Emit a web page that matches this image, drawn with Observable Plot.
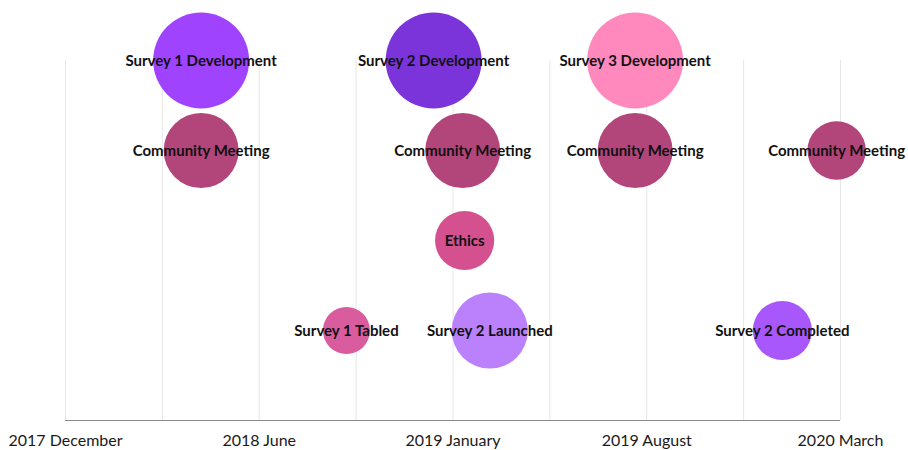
<!DOCTYPE html>
<html>
<head>
<meta charset="utf-8">
<script src="https://cdn.jsdelivr.net/npm/d3@7"></script>
<script src="https://cdn.jsdelivr.net/npm/@observablehq/plot@0.6"></script>
<style>
  html, body { margin: 0; padding: 0; background: #fff; }
  #chart { width: 908px; height: 450px; }
</style>
</head>
<body>
<div id="chart"></div>
<script>
// Events
const events = ["Survey 1 Development", "Survey 2 Development", "Survey 3 Development",
  "Community Meeting", "Community Meeting", "Community Meeting", "Community Meeting",
  "Ethics", "Survey 1 Tabled", "Survey 2 Launched", "Survey 2 Completed"];
// position on the timeline (1 unit = one labelled step)
const when = [0.70, 1.90, 2.94, 0.70, 2.05, 2.94, 3.98, 2.06, 1.45, 2.19, 3.70];
// row (0 = top)
const track = [0, 0, 0, 1, 1, 1, 1, 2, 3, 3, 3];
// relative importance (bubble area)
const weight = [100, 100, 100, 61, 61, 61, 37, 38, 24, 63, 38];

const tickValues = [0, 1, 2, 3, 4];
const tickLabels = ["2017 December", "2018 June", "2019 January", "2019 August", "2020 March"];
const gridValues = [0, 0.5, 1, 1.5, 2, 2.5, 3, 3.5, 4];

const kinds = ["Survey 1 Development", "Survey 2 Development", "Survey 3 Development",
  "Community Meeting", "Ethics", "Survey 1 Tabled", "Survey 2 Launched", "Survey 2 Completed"];
const palette = ["#a043ff", "#7b34d9", "#ff88bd", "#b24579", "#d5508f", "#d85c9e", "#bb80fb", "#a757fc"];

const data = events.map((e, i) => ({event: e, when: when[i], track: track[i], weight: weight[i]}));

const chart = Plot.plot({
  width: 908,
  height: 450,
  marginLeft: 65,
  marginRight: 68,
  marginTop: 60,
  marginBottom: 30,
  style: {background: "#fff", fontFamily: "Lato, sans-serif"},
  x: {domain: [0, 4], axis: null},
  y: {domain: [0, 4], reverse: true, axis: null},
  r: {type: "sqrt", domain: [0, 100], range: [0, 48]},
  color: {domain: kinds, range: palette},
  marks: [
    Plot.ruleX(gridValues, {x: d => d, y1: 0, y2: 4, stroke: "#e6e6e6", strokeWidth: 1}),
    Plot.ruleY([4], {x1: 0, x2: 4, stroke: "#8a8a8a", strokeWidth: 1.2}),
    Plot.axisX(tickValues, {
      anchor: "bottom",
      tickSize: 0,
      tickPadding: 14,
      tickFormat: (d, i) => tickLabels[i],
      fontSize: 16,
      fill: "#1a1a1a",
      label: null
    }),
    Plot.dot(data, {x: "when", y: "track", r: "weight", fill: "event", stroke: null}),
    Plot.text(data, {
      x: "when", y: "track", text: "event", dy: 1,
      fontSize: 15, fontWeight: 700, fill: "#111",
      fontFamily: "Lato, sans-serif"
    })
  ]
});
document.getElementById("chart").appendChild(chart);
</script>
</body>
</html>
